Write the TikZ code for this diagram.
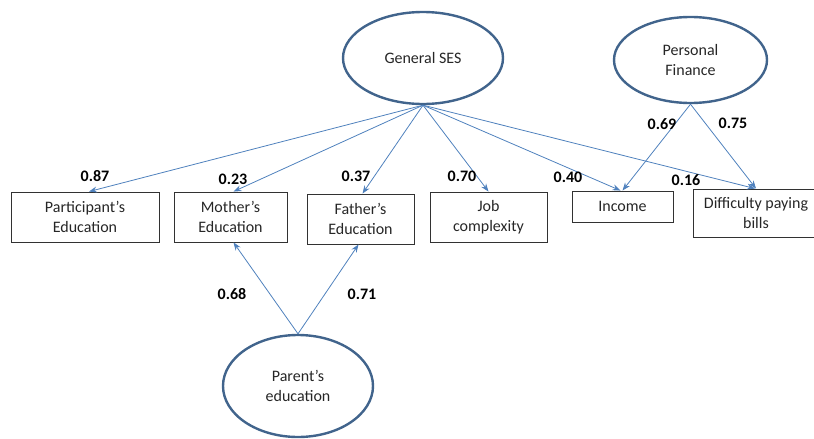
\documentclass[tikz,border=0pt]{standalone}
\usepackage{fontspec}
\setmainfont{Carlito}
\usetikzlibrary{shapes.geometric,arrows.meta,calc}
\definecolor{ellblue}{RGB}{65,100,140}
\definecolor{arrblue}{RGB}{79,129,189}
\definecolor{boxgray}{RGB}{50,50,50}
\tikzset{
  latent/.style={ellipse, draw=ellblue, line width=2.4pt, inner sep=0pt, align=center,
    font=\fontsize{16}{19.5}\selectfont, text=black!85},
  obsbox/.style={rectangle, draw=boxgray, line width=0.9pt, inner sep=0pt, align=center,
    minimum height=50pt, font=\fontsize{16}{19.5}\selectfont, text=black!85},
  path/.style={draw=arrblue, line width=0.8pt, -{Stealth[length=8pt,width=6pt]}},
  coef/.style={font=\fontsize{16}{19.5}\selectfont\bfseries, inner sep=0pt}
}
\begin{document}
\begin{tikzpicture}[x=1pt,y=-1pt]
\path[use as bounding box] (0,0) rectangle (814,439);
\clip (0,0) rectangle (814,439);
% latent variables
\node[latent, minimum width=160pt, minimum height=92pt] (gs) at (423,58) {General SES};
\node[latent, minimum width=153pt, minimum height=86pt] (pf) at (690.5,60) {Personal\\Finance};
\node[latent, minimum width=150pt, minimum height=102pt] (pa) at (298,386) {Parent’s\\education};
% observed
\node[obsbox, minimum width=148pt] (pe) at (85,217) {Participant’s\\Education};
\node[obsbox, minimum width=113pt] (me) at (230.5,217) {Mother’s\\Education};
\node[obsbox, minimum width=107pt] (fe) at (360.5,219) {Father’s\\Education};
\node[obsbox, minimum width=117pt] (jc) at (488.5,217) {Job\\complexity};
\node[obsbox, minimum width=101pt, minimum height=31pt] (in) at (622.5,206.5) {Income};
\node[obsbox, minimum width=126pt, minimum height=48pt] (db) at (756,213) {Difficulty paying\\bills};
% paths
\draw[path] (gs.south) -- ($(pe.north)+(4,0)$);
\draw[path] (gs.south) -- ($(me.north)+(3,0)$);
\draw[path] (gs.south) -- ($(fe.north)+(2,0)$);
\draw[path] (gs.south) -- (jc.north);
\draw[path] (gs.south) -- ($(in.north)+(-2,0)$);
\draw[path] (gs.south) -- ($(db.north)+(-1,0)$);
\draw[path] (pf.south) -- (in.north);
\draw[path] (pf.south) -- (db.north);
\draw[path] (pa.north) -- ($(me.south)+(3,0)$);
\draw[path] (pa.north) -- ($(fe.south)+(-2,0)$);
% coefficients
\node[coef] (c1) at (95,176) {0.87};
\node[coef] (c2) at (233,179) {0.23};
\node[coef] (c3) at (356,176) {0.37};
\node[coef] (c4) at (462,176) {0.70};
\node[coef] (c5) at (568,177) {0.40};
\node[coef] (c6) at (686,180) {0.16};
\node[coef] (c7) at (662,124) {0.69};
\node[coef] (c8) at (733,123) {0.75};
\node[coef] (c9) at (232,294) {0.68};
\node[coef] (c10) at (362,294) {0.71};
\end{tikzpicture}
\end{document}
